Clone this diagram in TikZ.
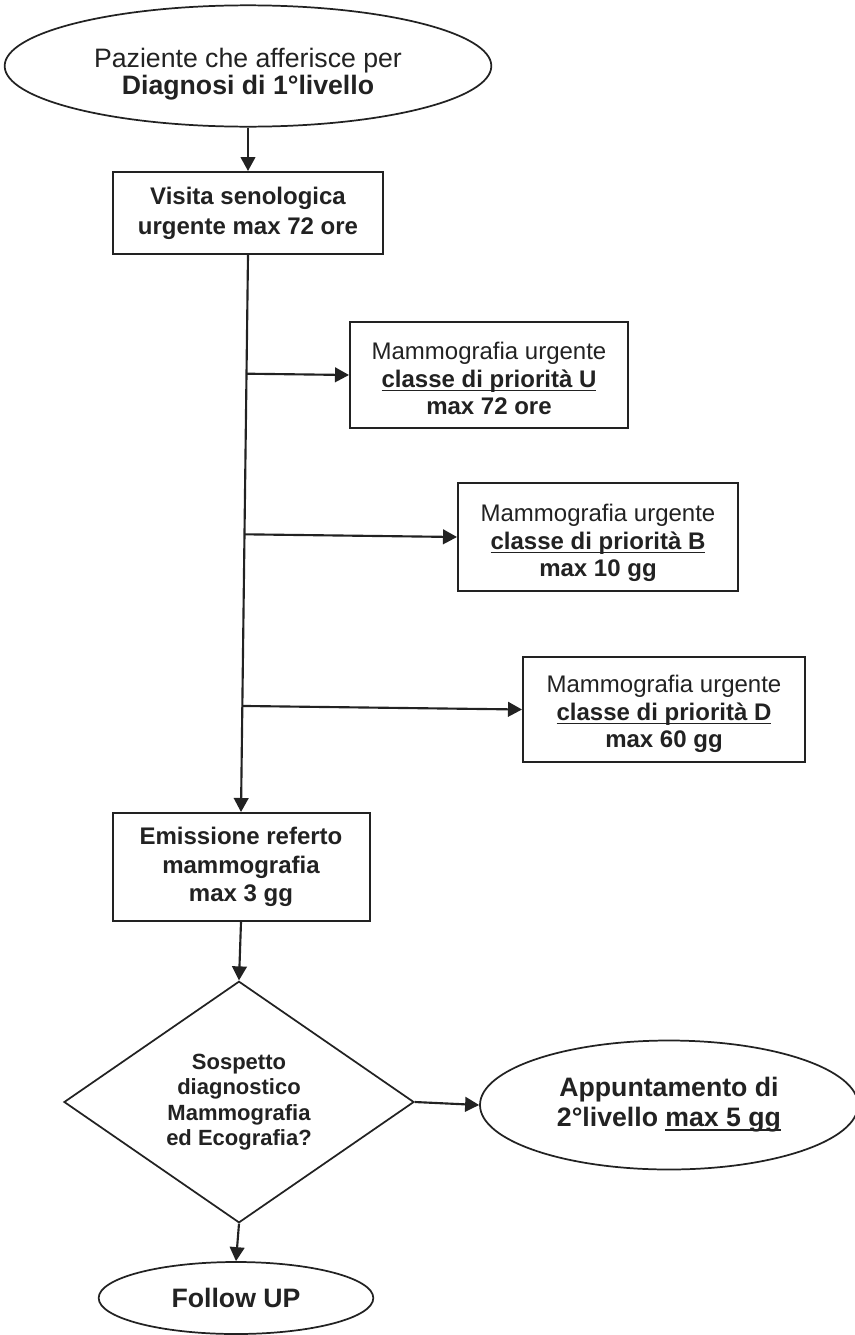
\documentclass[tikz,border=0pt]{standalone}
\usepackage{fontspec}
\setmainfont{Liberation Sans}
\usetikzlibrary{shapes.geometric,arrows.meta,calc}
\definecolor{ink}{HTML}{222222}
\newcommand{\myul}[1]{\setbox0\hbox{#1}\rlap{\color{ink}\rule[-3pt]{\wd0}{1.2pt}}\box0}
\newcommand{\dn}[2]{\raisebox{-#1}[\height][\depth]{\begin{tabular}{@{}c@{}}#2\end{tabular}}}
\begin{document}
\begin{tikzpicture}[x=0.75pt,y=-0.75pt,
  line/.style={draw=ink, line width=1.6pt},
  arr/.style={line, -{Triangle[length=10.5pt,width=11pt]}},
  box/.style={rectangle, draw=ink, line width=1.5pt, text=ink, align=center, inner sep=0pt},
  term/.style={ellipse, draw=ink, line width=1.3pt, text=ink, align=center, inner sep=0pt},
  dec/.style={diamond, draw=ink, line width=1.3pt, text=ink, align=center, inner sep=0pt},
  f18/.style={font=\fontsize{18}{20.5}\selectfont},
  f18b/.style={font=\fontsize{18}{21.5}\selectfont\bfseries},
  f20b/.style={font=\fontsize{20}{22.5}\selectfont\bfseries},
  f16b/.style={font=\fontsize{16.5}{19}\selectfont\bfseries}]
\useasboundingbox (0,0) rectangle (854,1335);
\fill[white] (0,0) rectangle (854,1335);

\node[term, minimum width=365pt, minimum height=91pt, font=\fontsize{20}{20.5}\selectfont] (e1) at (248,66)
  {\dn{7pt}{Paziente che afferisce per\\\textbf{Diagnosi di 1°livello}}};
\node[box, minimum width=202.5pt, minimum height=61.5pt, font=\fontsize{18}{22.5}\selectfont\bfseries] (v) at (248,213)
  {Visita senologica\\urgente max 72 ore};

\node[box, f18, minimum width=208.5pt, minimum height=79.5pt] (bU) at (489,375)
  {\dn{5pt}{Mammografia urgente\\\textbf{\myul{classe di priorità U}}\\\textbf{max 72 ore}}};
\node[box, f18, minimum width=210pt, minimum height=81pt] (bB) at (598,537)
  {\dn{5pt}{Mammografia urgente\\\textbf{\myul{classe di priorità B}}\\\textbf{max 10 gg}}};
\node[box, f18, minimum width=211.5pt, minimum height=78.75pt] (bD) at (664,709.5)
  {\dn{4pt}{Mammografia urgente\\\textbf{\myul{classe di priorità D}}\\\textbf{max 60 gg}}};

\node[box, f18b, minimum width=192.75pt, minimum height=81pt] (em) at (241,867)
  {Emissione referto\\mammografia\\max 3 gg};

\node[dec, f16b, minimum width=262.5pt, minimum height=166.5pt] (dm) at (239,1102)
  {Sospetto\\diagnostico\\Mammografia\\ed Ecografia?};

\node[term, f20b, minimum width=283.5pt, minimum height=96.75pt] (e2) at (669,1105)
  {Appuntamento di\\2°livello \myul{max 5 gg}};

\node[term, f20b, minimum width=206pt, minimum height=54pt] (fu) at (236,1298)
  {Follow UP};

\draw[arr] (e1.south) -- (v.north);
\draw[arr] (v.south) -- (em.north);
\coordinate (j1) at ($(v.south)!(bU.west)!(em.north)$);
\coordinate (j2) at ($(v.south)!(bB.west)!(em.north)$);
\coordinate (j3) at ($(v.south)!(bD.west)!(em.north)$);
\draw[arr] (j1) -- (bU.west);
\draw[arr] (j2) -- (bB.west);
\draw[arr] (j3) -- (bD.west);
\draw[arr] (em.south) -- (dm.north);
\draw[arr] (dm.east) -- (e2.west);
\draw[arr] (dm.south) -- (fu.north);
\end{tikzpicture}
\end{document}
